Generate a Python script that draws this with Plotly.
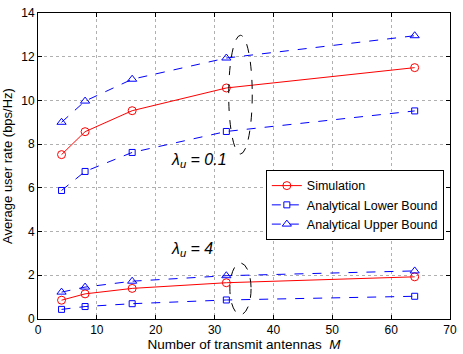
import plotly.graph_objects as go

antennas = [4, 8, 16, 32, 64]
sim_01 = [7.52, 8.57, 9.53, 10.57, 11.5]
lower_01 = [5.88, 6.75, 7.62, 8.58, 9.52]
upper_01 = [9.0, 9.97, 10.97, 11.94, 12.96]
sim_4 = [0.86, 1.15, 1.4, 1.66, 1.93]
lower_4 = [0.44, 0.57, 0.7, 0.87, 1.04]
upper_4 = [1.23, 1.46, 1.73, 1.98, 2.2]

x_ticks = [0, 10, 20, 30, 40, 50, 60, 70]
y_ticks = [0, 2, 4, 6, 8, 10, 12, 14]

# ellipses (x0, x1, y0, y1) around the M=32 points
ell_01 = (32.4, 36.4, 7.55, 12.98)
ell_4 = (32.6, 36.2, 0.2, 2.56)

font = "Liberation Sans, Arial, sans-serif"
red = "#ff0000"
blue = "#0000ff"

fig = go.Figure()

def add(xs, ys, name, color, dash, symbol, size, show, group):
    fig.add_trace(go.Scatter(
        x=xs, y=ys, mode="lines+markers", name=name,
        line=dict(color=color, width=1, dash=dash),
        marker=dict(symbol=symbol, size=size, color=color, line=dict(width=1, color=color)),
        showlegend=show, legendgroup=group))

add(antennas, sim_01, "Simulation", red, "solid", "circle-open", 8, True, "s")
add(antennas, lower_01, "Analytical Lower Bound", blue, "dash", "square-open", 6, True, "l")
add(antennas, upper_01, "Analytical Upper Bound", blue, "dash", "triangle-up-open", 8, True, "u")
add(antennas, sim_4, "Simulation", red, "solid", "circle-open", 8, False, "s")
add(antennas, lower_4, "Analytical Lower Bound", blue, "dash", "square-open", 6, False, "l")
add(antennas, upper_4, "Analytical Upper Bound", blue, "dash", "triangle-up-open", 8, False, "u")

for e in (ell_01, ell_4):
    fig.add_shape(type="circle", xref="x", yref="y", x0=e[0], x1=e[1], y0=e[2], y1=e[3],
                  line=dict(color="black", width=1, dash="dash"))

fig.add_annotation(x=27.3, y=7.25, xref="x", yref="y", text="<i>λ<sub>u</sub> = 0.1</i>",
                   showarrow=False, font=dict(family=font, size=16, color="black"))
fig.add_annotation(x=26.2, y=3.2, xref="x", yref="y", text="<i>λ<sub>u</sub> = 4</i>",
                   showarrow=False, font=dict(family=font, size=16, color="black"))

axis_common = dict(
    showline=True, linecolor="black", linewidth=1, mirror="ticks",
    ticks="inside", ticklen=4, tickcolor="black",
    showgrid=True, gridcolor="#b0b0b0", griddash="dot", gridwidth=1,
    zeroline=False, tickfont=dict(family=font, size=12, color="black"),
)

fig.update_layout(
    width=463, height=354,
    margin=dict(l=38, r=7, t=6, b=35),
    paper_bgcolor="white", plot_bgcolor="white",
    font=dict(family=font, size=12, color="black"),
    xaxis=dict(range=[0, 70], tickvals=x_ticks,
               title=dict(text="Number of transmit antennas  <i>M</i>", standoff=1,
                          font=dict(family=font, size=13.5)),
               **axis_common),
    yaxis=dict(range=[0, 14], tickvals=y_ticks,
               title=dict(text="Average user rate (bps/Hz)", standoff=5,
                          font=dict(family=font, size=13)),
               **axis_common),
    legend=dict(x=0.553, y=0.487, xanchor="left", yanchor="top",
                bgcolor="white", bordercolor="black", borderwidth=1,
                font=dict(family=font, size=12.5), tracegroupgap=0,
                itemwidth=30),
)

fig.write_html("out.html", post_script="document.body.style.margin='0';",
               config={"displayModeBar": False})
